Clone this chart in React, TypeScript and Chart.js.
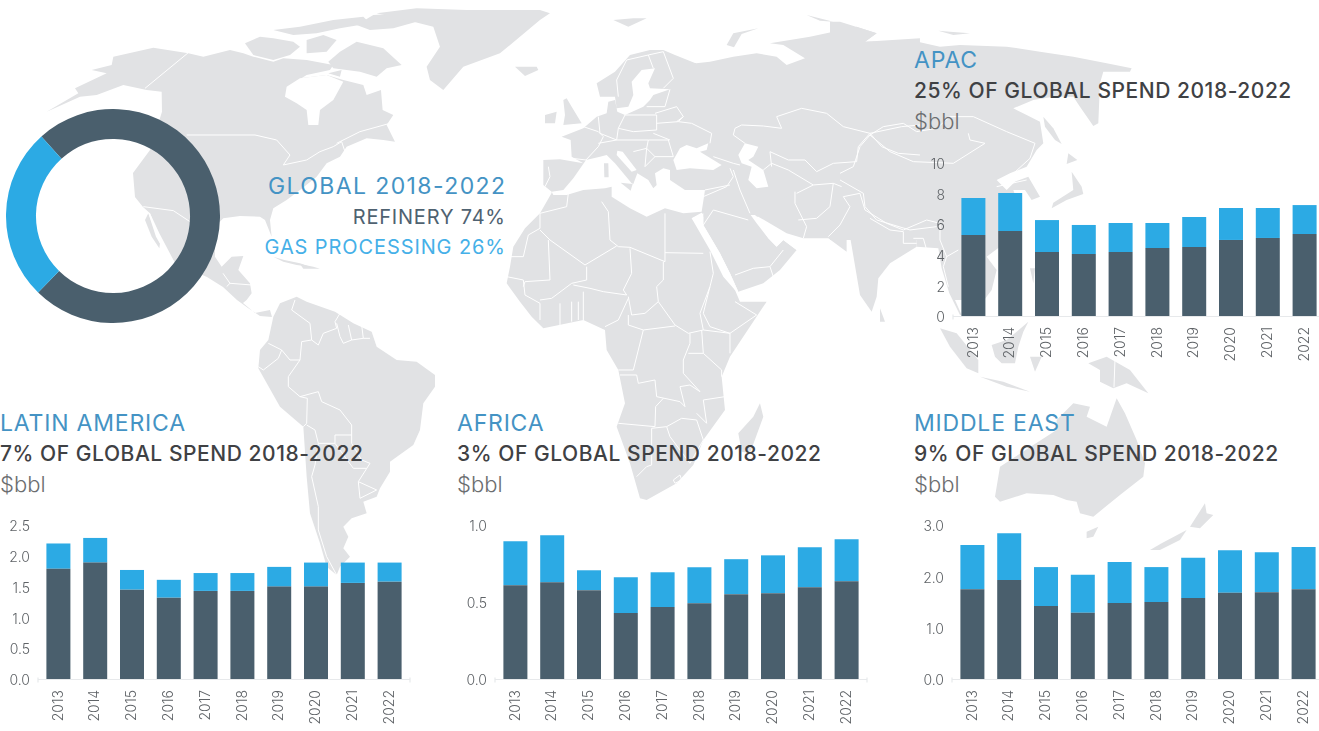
import React, { useEffect, useRef } from "react";
import { Chart, registerables } from "chart.js";

Chart.register(...registerables);

// ---- chart values ----
const years = ["2013", "2014", "2015", "2016", "2017", "2018", "2019", "2020", "2021", "2022"];

const globalLabels = ["Refinery", "Gas processing"];
const globalShare = [74, 26];

const apacRefinery = [5.29, 5.56, 4.18, 4.05, 4.18, 4.44, 4.51, 4.97, 5.1, 5.36];
const apacGas = [2.42, 2.48, 2.09, 1.9, 1.9, 1.64, 1.96, 2.09, 1.96, 1.89];

const latamRefinery = [1.79, 1.89, 1.45, 1.32, 1.43, 1.43, 1.5, 1.5, 1.56, 1.58];
const latamGas = [0.41, 0.4, 0.32, 0.29, 0.29, 0.29, 0.32, 0.39, 0.33, 0.31];

const africaRefinery = [0.609, 0.629, 0.577, 0.428, 0.467, 0.492, 0.551, 0.557, 0.596, 0.635];
const africaGas = [0.285, 0.304, 0.129, 0.233, 0.226, 0.234, 0.227, 0.246, 0.259, 0.272];

const meRefinery = [1.75, 1.93, 1.42, 1.29, 1.48, 1.5, 1.58, 1.68, 1.69, 1.75];
const meGas = [0.86, 0.91, 0.76, 0.74, 0.8, 0.68, 0.78, 0.83, 0.78, 0.82];

// ---- palette ----
const SLATE = "#4a5f6d";
const SKY = "#2caae4";
const TITLE_BLUE = "#4493c4";
const INK = "#3f4144";
const LAND = "#e1e2e4";
const FONT = "Inter, 'Noto Sans', sans-serif";

// ---- base map: outlines grouped by local drawing frame, each at one-third scale ----
const frames: Record<string, [number, number]> = {
  ar: [40, 5],
  na: [100, 0],
  sa: [220, 280],
  eu: [500, 0],
  af: [490, 170],
  ea: [840, 0],
  sea: [860, 200],
};

type Shape = [string, number[][]];

const landShapes: Shape[] = [
  ["na", [[-160, 335], [-65, 280], [-75, 265], [20, 220], [-25, 210], [35, 195], [40, 170], [160, 143], [265, 160], [310, 170], [390, 150], [430, 160], [460, 170], [520, 185], [550, 175], [620, 180], [700, 195], [690, 210], [620, 225], [580, 250], [600, 235], [680, 225], [730, 240], [790, 255], [800, 285], [843, 270], [848, 330], [880, 345], [860, 375], [885, 425], [850, 420], [800, 415], [740, 440], [720, 470], [680, 490], [650, 530], [600, 570], [560, 600], [520, 625], [510, 660], [515, 710], [495, 660], [480, 650], [420, 648], [370, 655], [355, 670], [345, 720], [345, 770], [365, 800], [395, 770], [430, 768], [415, 810], [450, 850], [455, 880], [440, 900], [429, 909], [465, 939], [510, 930], [516, 951], [480, 948], [444, 924], [411, 900], [369, 861], [321, 831], [225, 789], [180, 720], [150, 640], [129, 621], [105, 591], [99, 519], [150, 450], [186, 335], [185, 275], [140, 270], [70, 255], [-10, 285], [-60, 290]]],
  ["ar", [[615, 115], [660, 95], [700, 100], [760, 110], [780, 125], [750, 150], [700, 165], [640, 150]]],
  ["ar", [[700, 75], [780, 65], [880, 45], [970, 35], [990, 55], [900, 70], [830, 85], [760, 90]]],
  ["ar", [[800, 105], [850, 90], [890, 105], [860, 140], [800, 145]]],
  ["ar", [[900, 140], [950, 110], [1030, 130], [1085, 180], [1040, 190], [1010, 215], [960, 200], [880, 190], [865, 170]]],
  ["ar", [[950, 60], [1000, 30], [1100, 25], [1130, 50], [1060, 70], [990, 75]]],
  ["ar", [[865, 205], [905, 195], [900, 215]]],
  ["na", [[830, 40], [950, 25], [1100, 30], [1320, 30], [1350, 40], [1320, 60], [1200, 160], [1090, 200], [1030, 270], [990, 240], [980, 200], [1020, 140], [1000, 80], [920, 60]]],
  ["na", [[520, 770], [553, 780], [600, 790], [630, 800], [590, 795], [550, 785]]],
  ["na", [[600, 792], [640, 800], [660, 806], [610, 806]]],
  ["na", [[145, 640], [180, 730], [178, 745], [155, 710], [135, 660]]],
  ["sa", [[160, 110], [180, 70], [230, 50], [260, 65], [345, 95], [400, 130], [455, 155], [470, 200], [530, 240], [590, 245], [645, 285], [645, 320], [610, 370], [600, 450], [580, 495], [510, 545], [510, 575], [480, 625], [470, 650], [430, 665], [440, 700], [395, 715], [370, 740], [385, 770], [370, 805], [390, 830], [360, 860], [350, 885], [320, 860], [300, 790], [270, 700], [260, 590], [250, 440], [180, 380], [115, 265], [120, 210], [145, 180]]],
  ["eu", [[155, 575], [130, 555], [130, 480], [180, 478], [250, 490], [215, 470], [212, 420], [185, 410], [250, 385], [290, 350], [320, 340], [325, 305], [345, 300], [352, 335], [375, 345], [430, 320], [450, 300], [460, 285], [510, 268], [450, 265], [445, 250], [465, 205], [425, 210], [395, 245], [400, 285], [385, 320], [350, 325], [345, 290], [300, 290], [290, 250], [345, 215], [390, 165], [450, 150], [490, 150], [525, 165], [600, 195], [570, 215], [540, 195], [630, 185], [700, 170], [770, 160], [830, 170], [860, 195], [915, 175], [850, 135], [810, 130], [930, 110], [1000, 95], [1070, 80], [1130, 100], [1095, 125], [1260, 115], [1260, 720], [1040, 720], [1040, 755], [985, 715], [910, 715], [860, 700], [775, 650], [745, 650], [640, 645], [610, 650], [600, 620], [160, 620]]],
  ["eu", [[680, 135], [700, 100], [775, 85], [725, 102], [702, 142]]],
  ["eu", [[340, 60], [400, 55], [440, 55], [385, 80]]],
  ["eu", [[920, 45], [1000, 65], [960, 62]]],
  ["eu", [[200, 295], [215, 320], [245, 370], [190, 375], [195, 345], [190, 300]]],
  ["eu", [[135, 345], [170, 335], [165, 370], [135, 370]]],
  ["eu", [[45, 200], [110, 200], [115, 210], [75, 228]]],
  ["af", [[190, 60], [150, 130], [105, 175], [70, 230], [60, 290], [50, 340], [90, 395], [125, 440], [160, 475], [280, 450], [345, 480], [350, 540], [385, 600], [405, 700], [380, 770], [420, 880], [450, 985], [470, 990], [560, 940], [610, 885], [640, 810], [705, 720], [695, 620], [720, 560], [830, 395], [750, 395], [735, 360], [700, 320], [660, 240], [605, 145], [640, 125], [630, 60], [340, 50]]],
  ["af", [[610, 60], [640, 140], [640, 165], [690, 250], [720, 310], [745, 365], [820, 340], [870, 300], [920, 240], [880, 210], [860, 230], [835, 205], [800, 150], [790, 130], [930, 60]]],
  ["af", [[810, 700], [820, 740], [780, 850], [755, 845], [745, 790], [790, 740]]],
  ["ea", [[-30, 65], [0, 65], [110, 100], [75, 125], [220, 122], [300, 140], [360, 135], [500, 140], [600, 155], [700, 170], [800, 190], [875, 205], [870, 215], [790, 215], [780, 250], [775, 370], [760, 378], [720, 320], [700, 290], [640, 290], [580, 300], [520, 325], [560, 345], [600, 365], [610, 430], [590, 450], [560, 500], [510, 520], [470, 540], [500, 570], [525, 545], [565, 530], [600, 590], [575, 600], [555, 570], [520, 570], [546, 645], [480, 720], [-30, 720]]],
  ["ea", [[295, 92], [330, 95], [390, 100], [340, 105]]],
  ["ea", [[610, 350], [640, 385], [665, 432], [645, 420], [615, 380]]],
  ["ea", [[685, 460], [712, 480], [680, 492]]],
  ["ea", [[695, 515], [725, 560], [730, 582], [680, 600], [635, 625], [640, 608], [700, 570]]],
  ["sea", [[-40, 0], [-40, 50], [0, 285], [35, 335], [50, 290], [55, 235], [90, 190], [130, 165], [170, 140], [170, 0]]],
  ["sea", [[170, 60], [170, 140], [235, 145], [245, 205], [268, 280], [300, 345], [305, 345], [285, 300], [320, 300], [350, 330], [395, 270], [410, 210], [380, 170], [420, 140], [420, 60]]],
  ["sea", [[60, 325], [75, 365], [60, 365]]],
  ["sea", [[240, 385], [290, 400], [355, 480], [355, 520], [320, 505], [270, 440]]],
  ["sea", [[395, 435], [440, 420], [470, 395], [505, 365], [490, 395], [475, 440], [465, 490], [425, 490], [405, 470]]],
  ["sea", [[360, 530], [430, 545], [510, 575], [440, 560]]],
  ["sea", [[510, 470], [545, 470], [525, 515]]],
  ["sea", [[510, 205], [525, 205], [520, 250]]],
  ["sea", [[685, 490], [740, 470], [810, 510], [865, 580], [800, 550], [760, 565], [720, 545], [720, 510]]],
  ["sea", [[770, 595], [795, 640], [830, 720], [855, 790], [850, 830], [780, 885], [700, 950], [660, 940], [650, 905], [620, 900], [580, 885], [500, 880], [420, 905], [405, 890], [420, 800], [520, 735], [590, 690], [590, 660], [640, 610], [690, 620], [680, 650], [740, 680]]],
  ["sea", [[680, 995], [715, 980], [700, 1010], [680, 1015]]],
  ["sea", [[1035, 910], [1040, 940], [1060, 945], [1020, 985], [990, 980]]],
  ["sea", [[980, 990], [960, 1020], [900, 1050], [870, 1050], [905, 1030]]],
];

const waterShapes: Shape[] = [
  ["na", [[560, 260], [600, 235], [680, 225], [730, 245], [700, 300], [660, 330], [655, 375], [625, 375], [620, 330], [590, 310], [555, 290]]],
  ["na", [[150, 640], [178, 700], [225, 789], [205, 775], [168, 710], [145, 640]]],
  ["eu", [[155, 575], [190, 570], [220, 535], [258, 480], [300, 470], [320, 465], [345, 490], [395, 550], [400, 552], [412, 520], [445, 540], [460, 565], [470, 555], [465, 520], [490, 505], [510, 510], [510, 540], [555, 570], [615, 570], [612, 590], [605, 635], [550, 640], [495, 625], [440, 650], [390, 625], [335, 590], [335, 560], [315, 565], [250, 570], [200, 585], [160, 585]]],
  ["eu", [[352, 452], [368, 455], [410, 510], [395, 515], [350, 465]]],
  ["eu", [[520, 480], [540, 445], [560, 435], [590, 445], [625, 430], [620, 450], [600, 455], [665, 495], [640, 510], [570, 505], [530, 510]]],
  ["eu", [[715, 465], [735, 430], [775, 440], [760, 470], [745, 480], [790, 510], [805, 560], [770, 565], [745, 540], [755, 500], [725, 490]]],
  ["af", [[605, 145], [650, 200], [680, 270], [735, 360], [745, 365], [720, 310], [690, 250], [640, 165], [640, 130]]],
  ["af", [[782, 135], [795, 135], [840, 175], [880, 200], [960, 215], [920, 240], [880, 210], [860, 230], [835, 205], [800, 160]]],
];

const islandShapes: Shape[] = [
  ["eu", [[312, 490], [325, 490], [326, 532], [313, 532]]],
  ["eu", [[362, 548], [398, 552], [392, 572]]],
  ["eu", [[470, 500], [420, 470], [450, 470]]],
];

const borderLines: Shape[] = [
  ["na", [[135, 265], [265, 158]]],
  ["na", [[260, 405], [465, 405], [530, 420], [570, 465], [550, 495], [620, 480], [660, 455], [700, 440], [725, 425], [740, 470]]],
  ["na", [[710, 430], [780, 395], [870, 370]]],
  ["na", [[130, 620], [220, 632], [270, 665]]],
  ["na", [[369, 820], [390, 850], [380, 860]]],
  ["na", [[390, 850], [455, 855]]],
  ["sa", [[225, 60], [215, 90], [270, 130], [275, 180], [295, 195], [310, 160], [350, 145], [345, 125], [360, 100]]],
  ["sa", [[275, 180], [245, 185], [240, 240], [205, 290], [205, 320], [240, 350], [295, 335], [305, 365], [360, 390], [395, 435], [395, 490], [425, 540], [450, 550], [415, 605], [470, 630]]],
  ["sa", [[145, 190], [185, 210], [210, 240], [240, 240]]],
  ["sa", [[185, 210], [175, 235], [130, 270], [115, 260]]],
  ["sa", [[240, 350], [262, 355], [260, 430], [250, 440]]],
  ["sa", [[260, 435], [285, 450], [295, 490], [345, 490], [345, 465], [395, 465]]],
  ["sa", [[345, 490], [400, 565], [440, 565]]],
  ["sa", [[295, 490], [285, 555], [275, 590], [295, 680], [295, 750], [320, 830], [350, 885]]],
  ["sa", [[415, 605], [420, 655], [470, 630]]],
  ["sa", [[350, 130], [360, 170], [370, 190], [395, 180], [385, 135]]],
  ["sa", [[395, 180], [430, 175], [425, 135]]],
  ["sa", [[430, 175], [450, 175]]],
  ["eu", [[355, 290], [350, 240], [380, 180], [445, 165], [490, 155]]],
  ["eu", [[445, 165], [460, 205]]],
  ["eu", [[490, 155], [520, 235], [490, 265]]],
  ["eu", [[510, 268], [495, 320], [440, 320]]],
  ["eu", [[465, 340], [530, 320], [550, 350], [530, 365]]],
  ["eu", [[375, 345], [470, 345], [470, 390], [400, 395], [355, 385], [375, 345]]],
  ["eu", [[550, 350], [535, 365], [575, 370], [635, 400], [630, 430]]],
  ["eu", [[470, 370], [535, 365]]],
  ["eu", [[445, 420], [505, 420], [520, 470], [465, 470], [440, 445], [445, 420]]],
  ["eu", [[460, 400], [510, 420]]],
  ["eu", [[295, 350], [300, 400], [350, 420], [355, 385]]],
  ["eu", [[250, 380], [295, 395], [310, 410], [295, 440], [258, 480]]],
  ["eu", [[295, 430], [350, 420], [445, 420]]],
  ["eu", [[400, 455], [440, 445], [435, 500], [465, 470]]],
  ["eu", [[215, 475], [258, 480]]],
  ["eu", [[145, 500], [150, 530], [135, 560]]],
  ["eu", [[700, 405], [705, 385], [725, 375], [790, 378], [845, 385], [830, 350], [905, 325], [980, 340], [1030, 380], [1110, 400], [1205, 380], [1260, 375]]],
  ["eu", [[700, 405], [735, 430]]],
  ["eu", [[810, 455], [865, 480], [915, 480], [950, 515], [1000, 490], [1070, 485], [1075, 440], [1110, 400]]],
  ["eu", [[810, 455], [815, 500]]],
  ["eu", [[790, 510], [815, 490], [865, 510], [940, 555]]],
  ["eu", [[890, 580], [940, 555], [1000, 550], [1025, 560]]],
  ["eu", [[885, 575], [885, 610], [920, 680], [910, 715]]],
  ["eu", [[700, 510], [720, 570], [750, 640]]],
  ["eu", [[610, 590], [680, 560], [700, 530], [690, 505]]],
  ["eu", [[615, 570], [690, 555]]],
  ["eu", [[640, 470], [700, 490], [720, 495]]],
  ["eu", [[895, 660], [950, 655], [990, 620], [1000, 550]]],
  ["eu", [[985, 710], [1020, 675], [1050, 620], [1030, 590]]],
  ["eu", [[1030, 590], [1080, 580], [1095, 630], [1160, 670], [1210, 690]]],
  ["eu", [[1110, 400], [1145, 440], [1195, 460], [1260, 465]]],
  ["af", [[150, 175], [150, 130], [230, 110], [235, 70]]],
  ["af", [[150, 175], [115, 195], [100, 260], [55, 260]]],
  ["af", [[150, 180], [180, 210], [285, 285]]],
  ["af", [[175, 210], [180, 330], [105, 335], [100, 350]]],
  ["af", [[335, 95], [355, 125], [360, 210], [385, 230]]],
  ["af", [[385, 230], [420, 232], [525, 275], [525, 130]]],
  ["af", [[525, 248], [640, 250]]],
  ["af", [[285, 285], [380, 228]]],
  ["af", [[420, 235], [425, 310], [400, 360], [410, 375], [340, 365], [300, 355], [250, 345]]],
  ["af", [[290, 290], [290, 330], [245, 340], [185, 385], [150, 390]]],
  ["af", [[520, 275], [520, 330], [500, 350], [505, 395], [465, 430], [425, 435], [415, 380]]],
  ["af", [[280, 365], [280, 450]]],
  ["af", [[415, 385], [385, 450], [345, 470]]],
  ["af", [[505, 395], [555, 465], [595, 490], [640, 480], [630, 430], [660, 350], [670, 310], [660, 245]]],
  ["af", [[415, 435], [415, 465], [460, 480], [555, 468]]],
  ["af", [[460, 480], [430, 600], [385, 600]]],
  ["af", [[390, 615], [440, 615], [445, 640], [495, 630], [500, 680], [570, 695], [585, 710], [570, 650], [600, 645], [630, 665], [580, 610], [580, 570], [600, 520], [600, 490]]],
  ["af", [[640, 550], [695, 600], [695, 620]]],
  ["af", [[595, 550], [640, 550], [635, 480]]],
  ["af", [[720, 550], [720, 490], [640, 480]]],
  ["af", [[720, 490], [800, 435], [735, 395]]],
  ["af", [[660, 350], [640, 430], [660, 470], [720, 490]]],
  ["af", [[385, 760], [495, 770], [497, 710], [520, 685]]],
  ["af", [[485, 775], [485, 885], [470, 890], [440, 920]]],
  ["af", [[485, 775], [530, 770], [575, 745], [620, 750], [640, 810], [600, 880], [540, 800], [530, 770]]],
  ["af", [[640, 690], [705, 680]]],
  ["af", [[620, 730], [650, 760], [640, 690]]],
  ["af", [[550, 930], [570, 915], [575, 930], [555, 940], [550, 930]]],
  ["af", [[50, 320], [100, 330], [105, 375], [150, 400], [150, 450]]],
  ["af", [[210, 400], [210, 465]]],
  ["af", [[245, 395], [245, 455]]],
  ["af", [[265, 395], [265, 450]]],
  ["af", [[640, 165], [670, 120], [775, 150]]],
  ["af", [[735, 315], [790, 295], [840, 290], [880, 240]]],
  ["af", [[840, 290], [850, 320]]],
  ["ea", [[90, 405], [130, 380], [190, 370], [230, 395], [290, 385], [330, 350], [400, 350], [500, 395], [585, 430], [570, 475], [510, 530]]],
  ["ea", [[90, 405], [150, 455], [220, 485], [340, 490], [435, 430], [390, 420], [385, 400]]],
  ["ea", [[0, 520], [40, 500], [60, 440], [90, 405]]],
  ["ea", [[0, 540], [70, 580], [75, 620], [110, 660], [210, 690], [290, 680]]],
  ["ea", [[470, 560], [560, 540]]],
  ["sea", [[130, 90], [200, 60], [240, 70], [240, 120], [260, 170], [295, 150]]],
  ["sea", [[260, 170], [250, 200], [265, 260]]],
  ["sea", [[30, 55], [90, 90], [130, 95], [130, 130], [170, 130]]],
  ["sea", [[160, 115], [190, 115], [200, 150]]],
  ["sea", [[765, 480], [762, 562]]],
];

const toPath = (pts: number[][], close: boolean) =>
  "M" + pts.map((p) => p.join(" ")).join("L") + (close ? "Z" : "");

const frameTransform = (key: string) =>
  `translate(${frames[key][0]} ${frames[key][1]}) scale(0.3333)`;

function WorldMap() {
  return (
    <svg width={1319} height={731} style={{ position: "absolute", left: 0, top: 0 }}>
      {landShapes.map(([f, pts], i) => (
        <path key={"l" + i} transform={frameTransform(f)} d={toPath(pts, true)} fill={LAND} />
      ))}
      {waterShapes.map(([f, pts], i) => (
        <path key={"w" + i} transform={frameTransform(f)} d={toPath(pts, true)} fill="#fff" />
      ))}
      {islandShapes.map(([f, pts], i) => (
        <path key={"s" + i} transform={frameTransform(f)} d={toPath(pts, true)} fill={LAND} />
      ))}
      {borderLines.map(([f, pts], i) => (
        <path
          key={"b" + i}
          transform={frameTransform(f)}
          d={toPath(pts, false)}
          fill="none"
          stroke="#fff"
          strokeWidth={1}
          vectorEffect="non-scaling-stroke"
          strokeLinejoin="round"
        />
      ))}
    </svg>
  );
}

// Baseline with short end ticks, running slightly past the plot on both sides.
const baselinePlugin = {
  id: "baseline",
  beforeDatasetsDraw(chart: any) {
    const { ctx, chartArea } = chart;
    const y = Math.round(chartArea.bottom) + 0.5;
    ctx.save();
    ctx.strokeStyle = "#e7e9eb";
    ctx.lineWidth = 1.2;
    ctx.beginPath();
    ctx.moveTo(chartArea.left - 2, y);
    ctx.lineTo(chartArea.right + 2, y);
    ctx.moveTo(chartArea.left - 2, y - 2);
    ctx.lineTo(chartArea.left - 2, y + 3);
    ctx.moveTo(chartArea.right + 2, y - 2);
    ctx.lineTo(chartArea.right + 2, y + 3);
    ctx.stroke();
    ctx.restore();
  },
};

const AXIS_GUTTER = 44;
const TOP_GUTTER = 14;
const RIGHT_GUTTER = 6;
const BOTTOM_GUTTER = 50;

type BarPanelProps = {
  plotLeft: number;
  plotTop: number;
  plotBottom: number;
  refinery: number[];
  gas: number[];
  yMax: number;
  yStep: number;
  decimals: number;
};

function BarPanel({ plotLeft, plotTop, plotBottom, refinery, gas, yMax, yStep, decimals }: BarPanelProps) {
  const ref = useRef<HTMLCanvasElement>(null);
  const plotWidth = 368;
  const plotHeight = plotBottom - plotTop;
  useEffect(() => {
    const tickFont = { family: FONT, size: 14, weight: "300" as any };
    const chart = new Chart(ref.current!, {
      type: "bar",
      data: {
        labels: years,
        datasets: [
          { label: "Refinery", data: refinery, backgroundColor: SLATE },
          { label: "Gas processing", data: gas, backgroundColor: SKY },
        ],
      },
      options: {
        animation: false,
        responsive: false,
        layout: { padding: { top: TOP_GUTTER, right: RIGHT_GUTTER, bottom: 0, left: 0 } },
        plugins: { legend: { display: false }, tooltip: { enabled: false } },
        datasets: { bar: { categoryPercentage: 1, barPercentage: 24 / 36.8 } },
        scales: {
          x: {
            stacked: true,
            grid: { display: false, drawTicks: false },
            border: { display: false },
            afterFit: (s: any) => {
              s.height = BOTTOM_GUTTER;
              s.paddingLeft = 0;
              s.paddingRight = 0;
            },
            ticks: {
              autoSkip: false,
              minRotation: 90,
              maxRotation: 90,
              padding: 11,
              color: "#5f6367",
              font: tickFont,
            },
          },
          y: {
            stacked: true,
            min: 0,
            max: yMax,
            grid: { display: false, drawTicks: false },
            border: { display: false },
            afterFit: (s: any) => {
              s.width = AXIS_GUTTER;
              s.paddingTop = 0;
              s.paddingBottom = 0;
            },
            ticks: {
              stepSize: yStep,
              padding: 10,
              labelOffset: 2,
              color: "#5f6367",
              font: tickFont,
              callback: (v: any) => Number(v).toFixed(decimals),
            },
          },
        },
      },
      plugins: [baselinePlugin],
    } as any);
    return () => chart.destroy();
  }, []);
  return (
    <canvas
      ref={ref}
      width={AXIS_GUTTER + plotWidth + RIGHT_GUTTER}
      height={TOP_GUTTER + plotHeight + BOTTOM_GUTTER}
      style={{
        position: "absolute",
        left: plotLeft - AXIS_GUTTER,
        top: plotTop - TOP_GUTTER,
      }}
    />
  );
}

function GlobalDonut() {
  const ref = useRef<HTMLCanvasElement>(null);
  useEffect(() => {
    const chart = new Chart(ref.current!, {
      type: "doughnut",
      data: {
        labels: globalLabels,
        datasets: [{ data: globalShare, backgroundColor: [SLATE, SKY], borderWidth: 0 }],
      },
      options: {
        animation: false,
        responsive: false,
        rotation: -42,
        cutout: "72%",
        plugins: { legend: { display: false }, tooltip: { enabled: false } },
      },
    } as any);
    return () => chart.destroy();
  }, []);
  return <canvas ref={ref} width={214} height={214} style={{ position: "absolute", left: 6, top: 109 }} />;
}

type LabelProps = {
  text: string;
  x: number;
  y: number;
  size: number;
  color: string;
  weight?: number;
  spacing?: number;
  right?: boolean;
};

function Label({ text, x, y, size, color, weight = 400, spacing = 0, right }: LabelProps) {
  return (
    <div
      style={{
        position: "absolute",
        top: y - size / 2,
        ...(right ? { right: 1319 - x - spacing } : { left: x }),
        fontFamily: FONT,
        fontSize: size,
        lineHeight: `${size}px`,
        fontWeight: weight,
        letterSpacing: spacing,
        color,
        whiteSpace: "nowrap",
      }}
    >
      {text}
    </div>
  );
}

function PanelHeading({ x, y, title, share }: { x: number; y: number; title: string; share: string }) {
  return (
    <>
      <Label text={title} x={x} y={y} size={23} color={TITLE_BLUE} spacing={0.8} />
      <Label text={share} x={x} y={y + 30} size={21} color={INK} weight={500} spacing={0.55} />
      <Label text="$bbl" x={x} y={y + 61} size={22} color="#6c6e70" weight={300} />
    </>
  );
}

export default function App() {
  return (
    <div style={{ position: "fixed", left: 0, top: 0, width: 1319, height: 731, overflow: "hidden", background: "#fff" }}>
      <WorldMap />
      <GlobalDonut />
      <Label text="GLOBAL 2018-2022" x={505} y={186} size={23} color={TITLE_BLUE} spacing={1.4} right />
      <Label text="REFINERY 74%" x={505} y={217} size={20} color="#4f6271" spacing={0.8} right />
      <Label text="GAS PROCESSING 26%" x={505} y={247} size={20} color="#45b0e8" spacing={0.9} right />

      <PanelHeading x={914} y={60} title="APAC" share="25% OF GLOBAL SPEND 2018-2022" />
      <BarPanel plotLeft={955} plotTop={163} plotBottom={316} refinery={apacRefinery} gas={apacGas} yMax={10} yStep={2} decimals={0} />

      <PanelHeading x={0} y={423} title="LATIN AMERICA" share="7% OF GLOBAL SPEND 2018-2022" />
      <BarPanel plotLeft={40} plotTop={525} plotBottom={679} refinery={latamRefinery} gas={latamGas} yMax={2.5} yStep={0.5} decimals={1} />

      <PanelHeading x={457} y={423} title="AFRICA" share="3% OF GLOBAL SPEND 2018-2022" />
      <BarPanel plotLeft={497} plotTop={525} plotBottom={679} refinery={africaRefinery} gas={africaGas} yMax={1} yStep={0.5} decimals={1} />

      <PanelHeading x={914} y={423} title="MIDDLE EAST" share="9% OF GLOBAL SPEND 2018-2022" />
      <BarPanel plotLeft={954} plotTop={525} plotBottom={679} refinery={meRefinery} gas={meGas} yMax={3} yStep={1} decimals={1} />
    </div>
  );
}
